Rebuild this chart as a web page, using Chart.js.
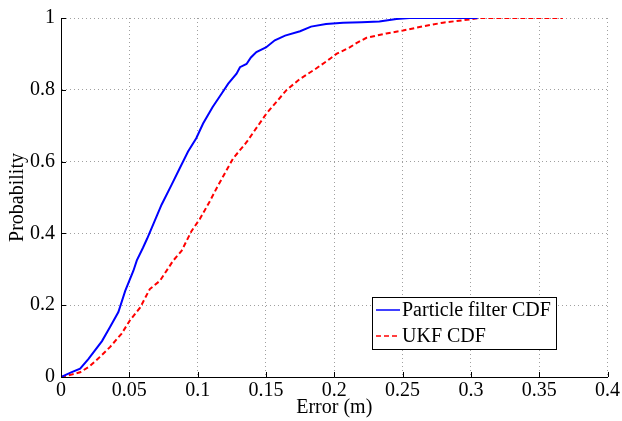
<!DOCTYPE html>
<html>
<head>
<meta charset="utf-8">
<script src="https://cdn.jsdelivr.net/npm/chart.js@4/dist/chart.umd.min.js"></script>
<style>
html,body{margin:0;padding:0;background:#fff;}
canvas{display:block;}
</style>
</head>
<body>
<canvas id="c" width="622" height="421"></canvas>
<script>
// ---- data ----
const pfError = [0,0.007,0.014,0.02,0.025,0.030,0.036,0.042,0.047,0.053,0.0555,0.060,0.063,0.0675,0.0736,0.081,0.087,0.093,0.099,0.104,0.111,0.1175,0.1224,0.1285,0.131,0.1358,0.139,0.143,0.150,0.1565,0.164,0.175,0.183,0.194,0.2065,0.22,0.233,0.2455,0.255,0.305];
const pfProb  = [0,0.012,0.023,0.05,0.075,0.10,0.14,0.181,0.24,0.296,0.325,0.36,0.385,0.425,0.48,0.536,0.582,0.628,0.665,0.706,0.752,0.789,0.817,0.845,0.863,0.872,0.89,0.905,0.918,0.938,0.951,0.963,0.976,0.983,0.987,0.988,0.99,0.997,1.0,1.0];
const ukfError = [0,0.007,0.014,0.021,0.0285,0.036,0.0444,0.0505,0.058,0.065,0.0724,0.0821,0.0882,0.0956,0.1016,0.109,0.1139,0.126,0.1358,0.1504,0.165,0.1748,0.187,0.1967,0.2016,0.2113,0.2162,0.2236,0.2382,0.2503,0.265,0.2796,0.299,0.3064,0.3673];
const ukfProb  = [0,0.006,0.013,0.03,0.056,0.084,0.121,0.158,0.194,0.245,0.268,0.324,0.351,0.407,0.44,0.49,0.526,0.609,0.654,0.734,0.799,0.83,0.86,0.886,0.9,0.918,0.93,0.945,0.957,0.965,0.977,0.987,0.996,1.0,1.0];
const seriesLabels = ['Particle filter CDF','UKF CDF'];
const xTickLabels = ['0','0.05','0.1','0.15','0.2','0.25','0.3','0.35','0.4'];
const yTickLabels = ['0','0.2','0.4','0.6','0.8','1'];
const xTitle = 'Error (m)';
const yTitle = 'Probability';

const FONT = 'Liberation Serif, Times New Roman, serif';
const toPts = (xs, ys) => xs.map((x, i) => ({x: x, y: ys[i]}));

const insideTicks = {
  id: 'insideTicks',
  afterDraw(chart) {
    const ctx = chart.ctx, a = chart.chartArea;
    const xs = chart.scales.x, ys = chart.scales.y;
    ctx.save();
    ctx.strokeStyle = '#000';
    ctx.lineWidth = 1;
    ctx.beginPath();
    xs.ticks.forEach(t => {
      const px = Math.round(xs.getPixelForValue(t.value)) + 0.5;
      ctx.moveTo(px, a.bottom); ctx.lineTo(px, a.bottom - 5);
    });
    ys.ticks.forEach(t => {
      const py = Math.round(ys.getPixelForValue(t.value)) + 0.5;
      ctx.moveTo(a.left, py); ctx.lineTo(a.left + 5, py);
    });
    ctx.stroke();
    ctx.restore();
  }
};

const boxLegend = {
  id: 'boxLegend',
  afterDraw(chart) {
    const ctx = chart.ctx;
    const bx = 372.5, by = 297.5, bw = 184, bh = 52;
    ctx.save();
    ctx.fillStyle = '#fff';
    ctx.fillRect(bx, by, bw, bh);
    ctx.strokeStyle = '#000';
    ctx.lineWidth = 1;
    ctx.strokeRect(bx, by, bw, bh);
    const rows = [310, 336];
    chart.data.datasets.forEach((ds, i) => {
      const y = rows[i];
      ctx.beginPath();
      ctx.strokeStyle = ds.borderColor;
      ctx.lineWidth = 1.5;
      ctx.setLineDash(ds.borderDash || []);
      ctx.moveTo(376, y); ctx.lineTo(400, y);
      ctx.stroke();
      ctx.setLineDash([]);
      ctx.fillStyle = '#000';
      ctx.font = '20px ' + FONT;
      ctx.textBaseline = 'middle';
      ctx.textAlign = 'left';
      ctx.fillText(ds.label, 402, y + 1);
    });
    ctx.restore();
  }
};

new Chart(document.getElementById('c'), {
  type: 'line',
  data: {
    datasets: [
      {label: seriesLabels[0], data: toPts(pfError, pfProb), borderColor: '#0000ff', borderWidth: 2, pointRadius: 0, tension: 0, fill: false},
      {label: seriesLabels[1], data: toPts(ukfError, ukfProb), borderColor: '#ff0000', borderWidth: 2, borderDash: [5,3], pointRadius: 0, tension: 0, fill: false}
    ]
  },
  options: {
    responsive: false,
    animation: false,
    layout: {padding: {top: 15, right: 14, bottom: 0, left: 0}},
    plugins: {legend: {display: false}, tooltip: {enabled: false}},
    scales: {
      x: {
        type: 'linear', min: 0, max: 0.4,
        afterFit(s) { s.height = 44; },
        ticks: {stepSize: 0.05, color: '#000', padding: 2, maxRotation: 0, autoSkip: false,
                font: {family: FONT, size: 20},
                callback: (v, i) => xTickLabels[i]},
        grid: {color: '#a0a0a0', lineWidth: 1, drawTicks: false},
        border: {display: true, color: '#000', width: 1, dash: [1,3]},
        title: {display: true, text: xTitle, color: '#000', font: {family: FONT, size: 20}, padding: {top: 0, bottom: 1}}
      },
      y: {
        type: 'linear', min: 0, max: 1,
        afterFit(s) { s.width = 61; },
        ticks: {stepSize: 0.2, color: '#000', padding: 6,
                font: {family: FONT, size: 20},
                callback: (v, i) => yTickLabels[i]},
        grid: {color: '#a0a0a0', lineWidth: 1, drawTicks: false},
        border: {display: true, color: '#000', width: 1, dash: [1,3]},
        title: {display: true, text: yTitle, color: '#000', font: {family: FONT, size: 20}, padding: {top: 6, bottom: 0}}
      }
    }
  },
  plugins: [insideTicks, boxLegend]
});
</script>
</body>
</html>
